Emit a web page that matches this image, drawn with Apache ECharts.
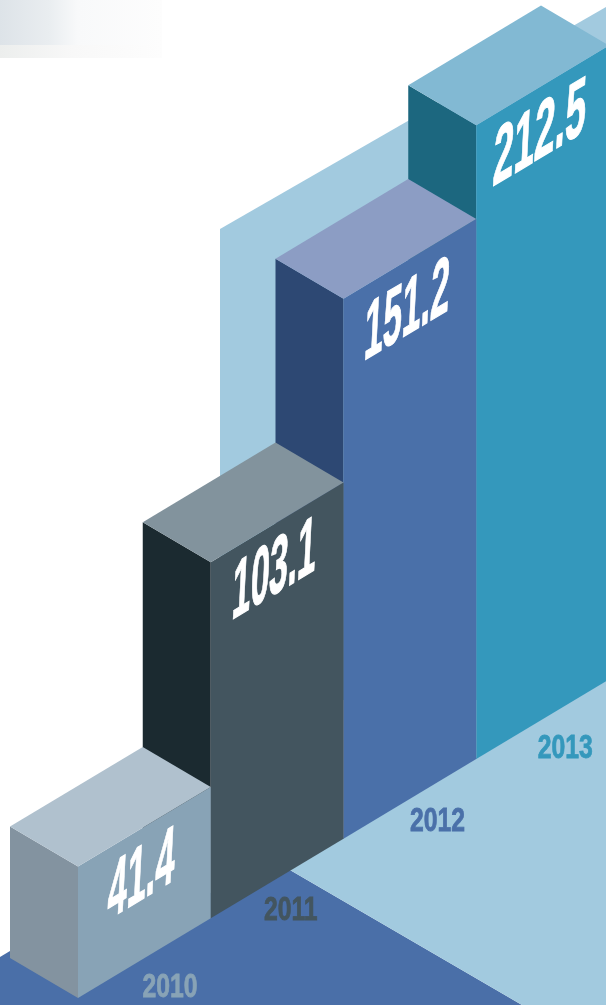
<!DOCTYPE html>
<html>
<head>
<meta charset="utf-8">
<title>Isometric bars 2010-2013</title>
<script src="https://cdn.jsdelivr.net/npm/echarts@6/dist/echarts.min.js"></script>
<style>
  html, body { margin: 0; padding: 0; background: #fff; }
  #chart { width: 606px; height: 1005px; }
</style>
</head>
<body>
<div id="chart"></div>
<script>
var years = ['2010', '2011', '2012', '2013'];
var values = ['41.4', '103.1', '151.2', '212.5'];
// the picture is not to scale, these are the heights the bars are really drawn at
var drawnHeights = [43.8, 118.7, 180, 211.3];

var rightColors = ['#88a3b6', '#43555f', '#4a70a9', '#3498bc'];
var leftColors = ['#8393a0', '#1b2a30', '#2d4873', '#1c677f'];
var topColors = ['#b0c1ce', '#82939d', '#8c9dc4', '#82b9d3'];
var yearColors = ['#88a3b6', '#43555f', '#4a70a9', '#3498bc'];
var yearOffsets = [[92, -10], [80, -7], [94, -17], [89, -10]];
var labelScaleX = [0.86, 0.84, 0.85, 0.93];
var labelDrop = [51, 50, 54, 51];

var SLOPE = 0.6;
var SIDE_W = 68;
var SIDE_H = 40;
var FONT = '"Liberation Sans", Arial, sans-serif';

// M = Rot(phi) * diag(sx, sy) * Rot(theta), zrender has no shear for custom elements
function shearedText(text, cx, cy, a, b, k) {
  var m00 = a, m01 = k * b, m10 = -SLOPE * a, m11 = b;
  var E = (m00 + m11) / 2, F = (m00 - m11) / 2, G = (m10 + m01) / 2, H = (m10 - m01) / 2;
  var Q = Math.hypot(E, H), R = Math.hypot(F, G);
  var a1 = Math.atan2(G, F), a2 = Math.atan2(H, E);
  return {
    type: 'group',
    x: cx,
    y: cy,
    rotation: -(a2 + a1) / 2,
    scaleX: Q + R,
    scaleY: Q - R,
    children: [{
      type: 'text',
      rotation: -(a2 - a1) / 2,
      style: {
        text: text,
        fill: '#fff',
        stroke: '#fff',
        lineWidth: 0.6,
        font: 'bold 40px ' + FONT,
        align: 'center',
        verticalAlign: 'middle'
      }
    }]
  };
}

function renderBar(params, api) {
  var i = api.value(0);
  var band = api.size([1, 0])[0];
  var base = api.coord([i, 0]);
  var top = api.coord([i, api.value(1)]);
  var rise = band * SLOPE * i;
  var x0 = base[0] - band / 2;
  var x1 = x0 + band;
  var yb = base[1] - rise;
  var yt = top[1] - rise;

  var leftFace = [[x0 - SIDE_W, yt - SIDE_H], [x0, yt], [x0, yb], [x0 - SIDE_W, yb - SIDE_H]];
  var rightFace = [[x0, yt], [x1, yt - band * SLOPE], [x1, yb - band * SLOPE], [x0, yb]];
  var topFace = [[x0 - SIDE_W, yt - SIDE_H], [x0, yt], [x1, yt - band * SLOPE], [x1 - SIDE_W, yt - band * SLOPE - SIDE_H]];

  return {
    type: 'group',
    children: [
      { type: 'polygon', shape: { points: leftFace }, style: { fill: leftColors[i] } },
      { type: 'polygon', shape: { points: rightFace }, style: { fill: rightColors[i] } },
      { type: 'polygon', shape: { points: topFace }, style: { fill: topColors[i] } },
      shearedText(values[i], x0 + band / 2 - 3, yt - band * SLOPE / 2 + labelDrop[i], labelScaleX[i], 2.05, -0.05),
      {
        type: 'text',
        x: x0 + yearOffsets[i][0],
        y: yb + yearOffsets[i][1],
        scaleX: 0.75,
        style: {
          text: years[i],
          fill: yearColors[i],
          stroke: yearColors[i],
          lineWidth: 0.8,
          font: 'bold 33px ' + FONT,
          align: 'center',
          verticalAlign: 'middle'
        }
      }
    ]
  };
}

// front bars have to cover the ones behind, so 2013 goes in first
var barData = [];
for (var n = years.length - 1; n >= 0; n--) {
  barData.push([n, drawnHeights[n]]);
}

var chart = echarts.init(document.getElementById('chart'), null, { renderer: 'canvas' });
chart.setOption({
  animation: false,
  backgroundColor: '#fff',
  grid: { left: 78, width: 531, top: 0, height: 998, outerBoundsMode: 'none' },
  xAxis: { type: 'category', data: years, show: false },
  yAxis: { type: 'value', min: 0, max: 332.67, show: false },
  graphic: [
    // scan smudge in the top left corner
    {
      type: 'rect', z: 0, shape: { x: 0, y: 0, width: 162, height: 58 },
      style: {
        fill: {
          type: 'linear', x: 0, y: 0, x2: 1, y2: 0,
          colorStops: [
            { offset: 0, color: '#dde3e8' },
            { offset: 0.3, color: '#e9edf0' },
            { offset: 0.48, color: '#f8f9fa' },
            { offset: 1, color: '#fdfdfd' }
          ]
        }
      }
    },
    {
      type: 'rect', z: 0, shape: { x: 0, y: 45, width: 162, height: 13 },
      style: {
        fill: {
          type: 'linear', x: 0, y: 0, x2: 1, y2: 0,
          colorStops: [
            { offset: 0, color: '#eceeed' },
            { offset: 0.45, color: '#f8f8f8' },
            { offset: 1, color: '#fdfdfd' }
          ]
        }
      }
    },
    { type: 'polygon', z: 0, shape: { points: [[220, 229], [606, 7], [606, 700], [220, 700]] }, style: { fill: '#a2cadf' } },
    { type: 'polygon', z: 0, shape: { points: [[0, 957], [10, 951], [290, 870], [522, 1005], [0, 1005]] }, style: { fill: '#4a6fa8' } },
    { type: 'polygon', z: 0, shape: { points: [[290, 870], [606, 680], [606, 1005], [522, 1005]] }, style: { fill: '#a2cadf' } }
  ],
  series: [{
    type: 'custom',
    coordinateSystem: 'cartesian2d',
    renderItem: renderBar,
    encode: { x: 0, y: 1 },
    data: barData,
    silent: true
  }]
});
</script>
</body>
</html>
